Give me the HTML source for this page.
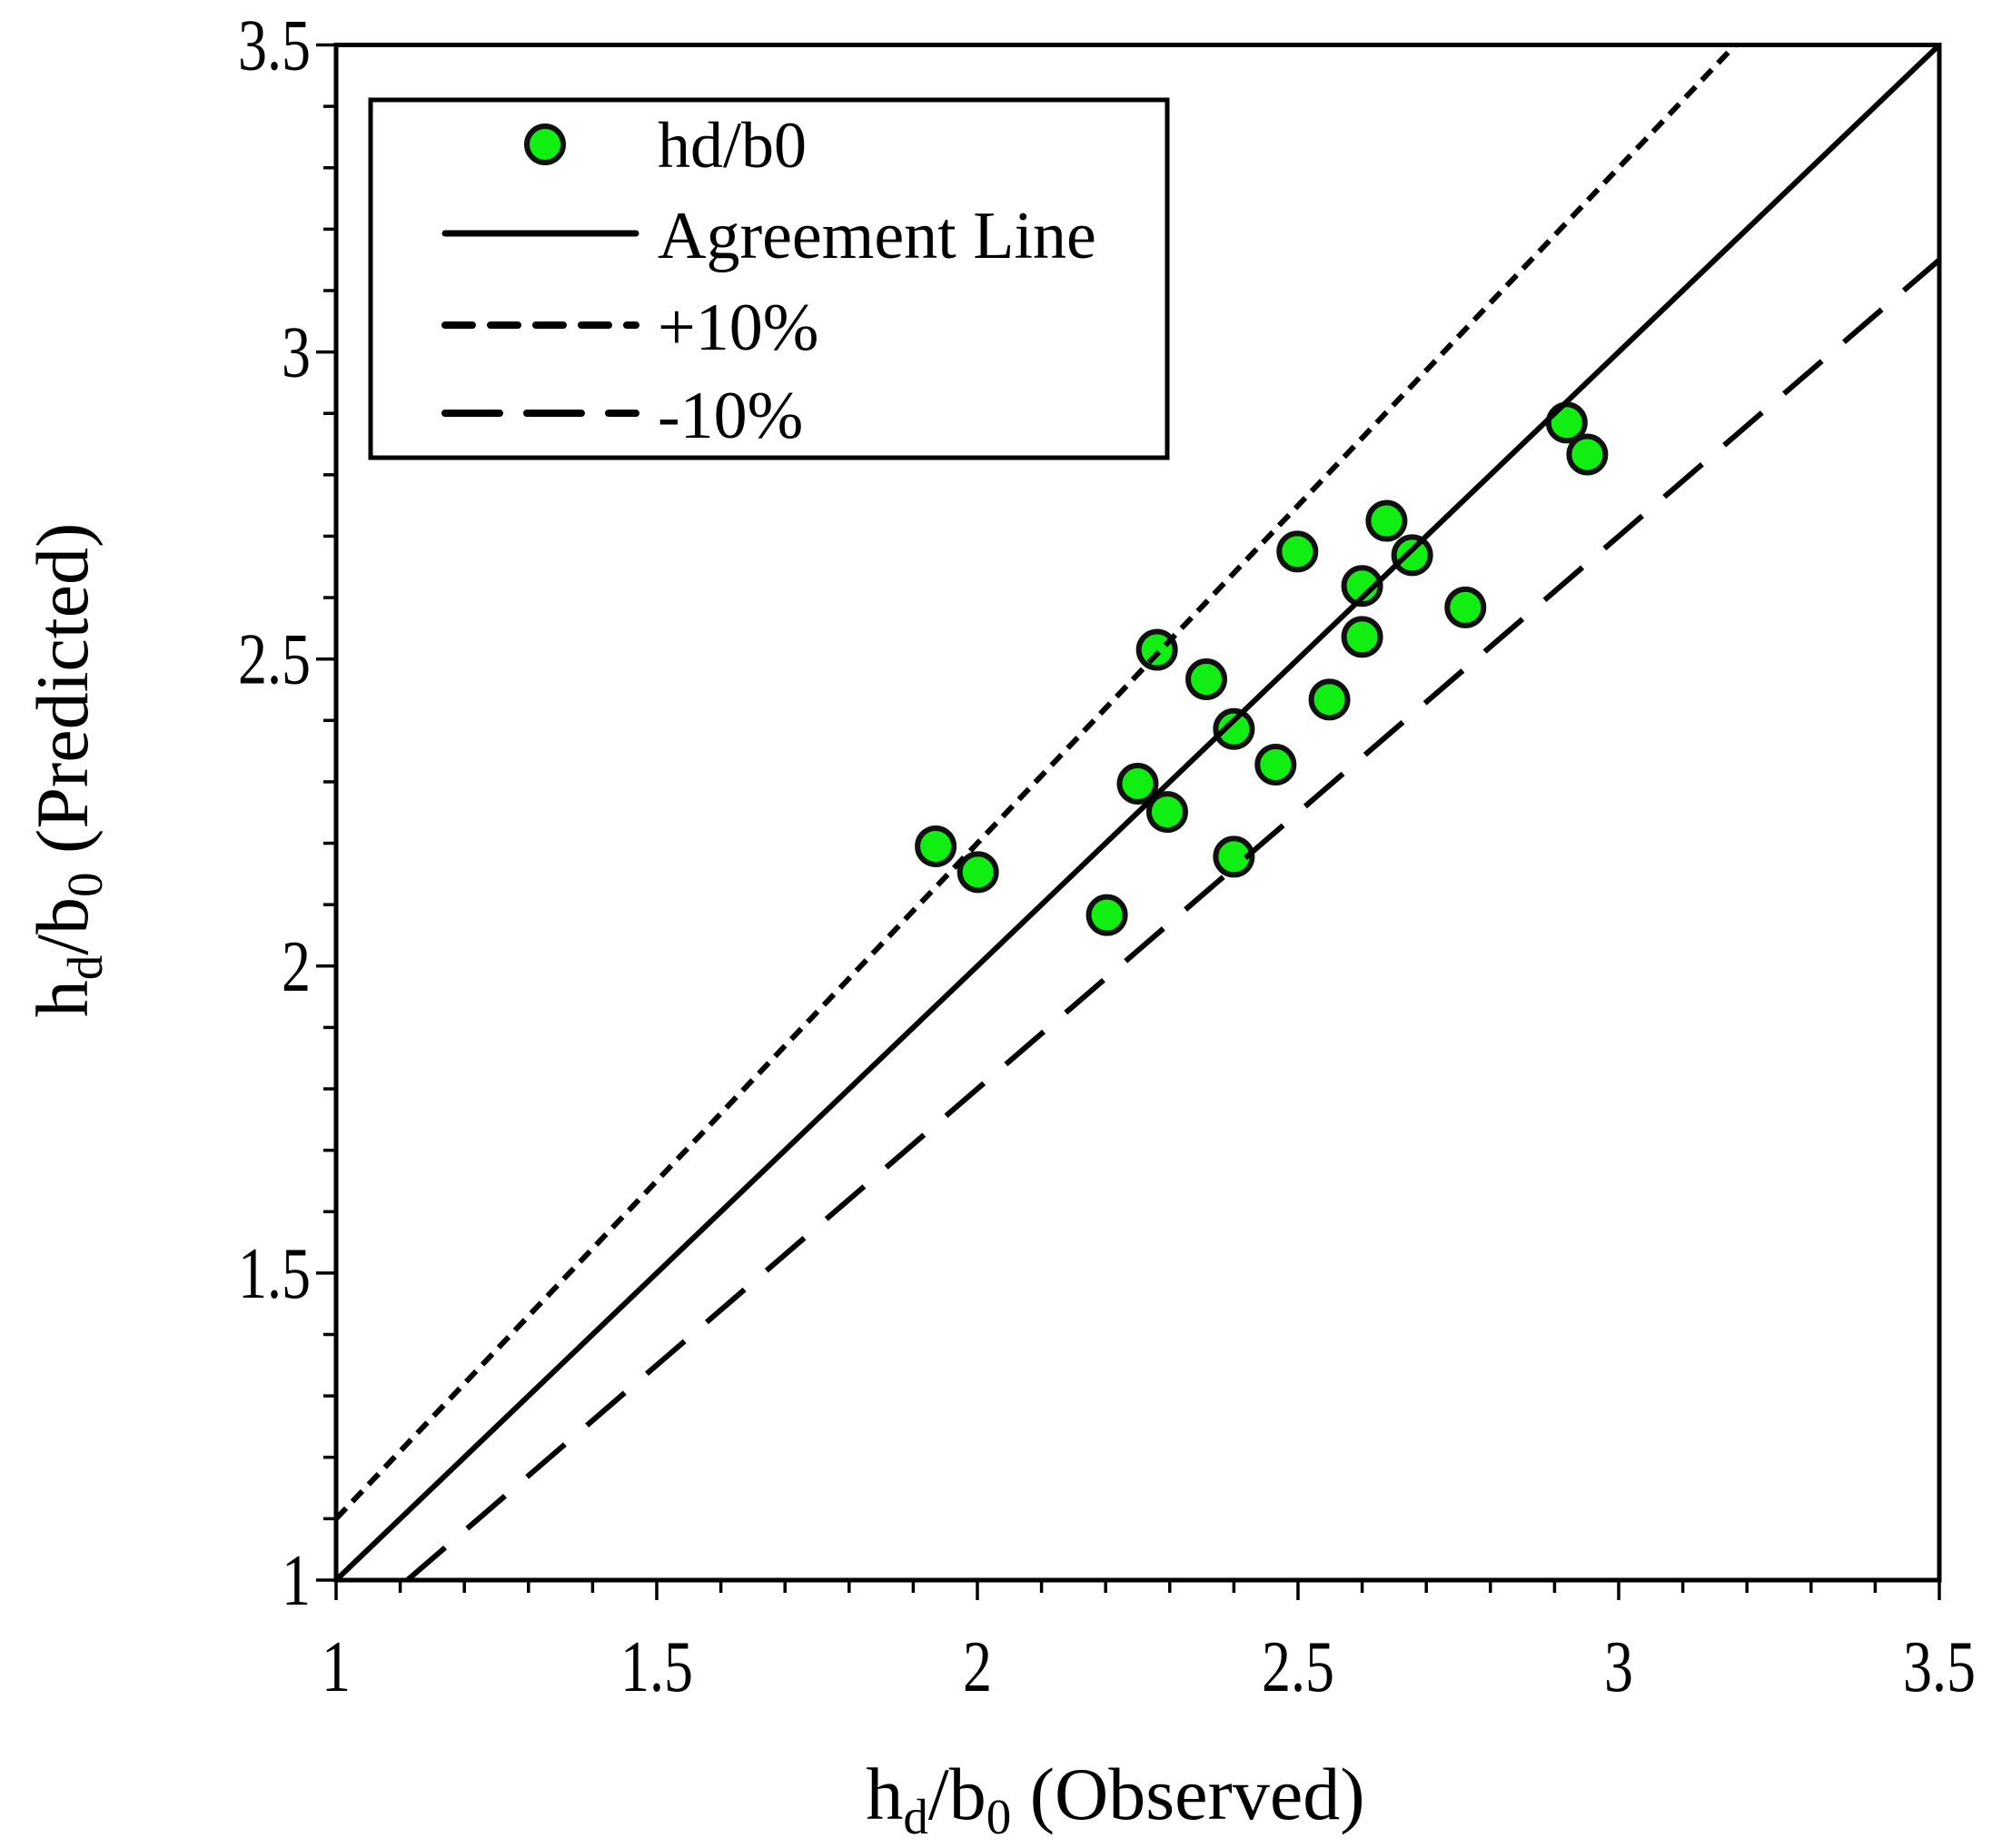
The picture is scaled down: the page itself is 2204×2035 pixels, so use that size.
<!DOCTYPE html>
<html><head><meta charset="utf-8"><style>
html,body{margin:0;padding:0;background:#fff;}
svg{display:block;}
text{font-family:"Liberation Serif",serif;fill:#000;}
</style></head><body>
<svg id="chart" width="2204" height="2035" viewBox="0 0 2204 2035" xmlns="http://www.w3.org/2000/svg">
<rect x="0" y="0" width="2204" height="2035" fill="#fff"/>
<g id="ticks"></g>
<g id="points"></g>
<g id="lines"></g>
<rect x="370" y="49.5" width="1765" height="1690.5" fill="none" stroke="#000" stroke-width="5"/>
<g id="legend">
<rect x="408" y="110" width="877" height="394" fill="#fff" stroke="#000" stroke-width="5"/>
<circle cx="600" cy="159" r="20" fill="#11ee11" stroke="#111" stroke-width="6"/>
<text x="724" y="184" font-size="72">hd/b0</text>
<line x1="490" y1="257" x2="700" y2="257" stroke="#000" stroke-width="7" stroke-linecap="round"/>
<text x="724" y="284" font-size="74">Agreement Line</text>
<line x1="490" y1="358" x2="700" y2="358" stroke="#000" stroke-width="8" stroke-dasharray="30 20" stroke-linecap="round"/>
<text x="724" y="385" font-size="74">+10%</text>
<line x1="490" y1="455" x2="700" y2="455" stroke="#000" stroke-width="8" stroke-dasharray="60 30" stroke-linecap="round"/>
<text x="724" y="482" font-size="74">-10%</text>
</g>
<text x="1228" y="2003" font-size="82" text-anchor="middle">h<tspan font-size="55" dy="16">d</tspan><tspan dy="-16">/b</tspan><tspan font-size="55" dy="16">0</tspan><tspan dy="-16"> (Observed)</tspan></text>
<text transform="translate(96,848) rotate(-90)" font-size="82" text-anchor="middle">h<tspan font-size="55" dy="16">d</tspan><tspan dy="-16">/b</tspan><tspan font-size="55" dy="16">0</tspan><tspan dy="-16"> (Predicted)</tspan></text>
</svg>
<script>
const obsX = [1.935,2.001,2.202,2.25,2.28,2.296,2.357,2.40,2.40,2.465,2.499,2.549,2.60,2.60,2.638,2.678,2.761,2.919,2.951];
const predY = [2.195,2.153,2.083,2.297,2.515,2.251,2.467,2.386,2.178,2.328,2.675,2.434,2.619,2.536,2.725,2.669,2.584,2.885,2.833];
const tickLabels = ["1","1.5","2","2.5","3","3.5"];
const tickValues = [1,1.5,2,2.5,3,3.5];
const axisMin = 1, axisMax = 3.5;
const bandFactors = [1.1, 0.9];

const NS="http://www.w3.org/2000/svg";
const X0=370,X1=2135,Y0=1740,Y1=49.5;
const sx=v=>X0+(v-axisMin)/(axisMax-axisMin)*(X1-X0);
const sy=v=>Y0-(v-axisMin)/(axisMax-axisMin)*(Y0-Y1);
function mk(tag,attrs,parent){const e=document.createElementNS(NS,tag);for(const k in attrs)e.setAttribute(k,attrs[k]);parent.appendChild(e);return e;}
const tg=document.getElementById('ticks');
for(let i=0;i<=25;i++){
  const v=axisMin+i*0.1; const major=i%5===0; const L=major?22:14;
  const tx=mk('line',{x1:sx(v),x2:sx(v),y1:Y0,y2:Y0+L,stroke:'#000','stroke-width':3.5},tg);
  
  
  const ty=mk('line',{x1:X0-L,x2:X0,y1:sy(v),y2:sy(v),stroke:'#000','stroke-width':3.5},tg);
  
  
}
tickValues.forEach((v,i)=>{
  const t=mk('text',{transform:'translate('+sx(v)+',1862) scale(0.8,1)','font-size':80,'text-anchor':'middle'},tg);t.textContent=tickLabels[i];
  
  
  const u=mk('text',{transform:'translate(342,'+(sy(v)+27)+') scale(0.8,1)','font-size':80,'text-anchor':'end'},tg);u.textContent=tickLabels[i];
  
  
});
const pg=document.getElementById('points');
obsX.forEach((x,i)=>{
  const c=mk('circle',{cx:sx(x),cy:sy(predY[i]),r:20,fill:'#11ee11',stroke:'#111','stroke-width':6},pg);
  
  
});
const lg=document.getElementById('lines');
const a=mk('line',{x1:sx(1),y1:sy(1),x2:sx(3.5),y2:sy(3.5),stroke:'#000','stroke-width':6},lg);


const p=bandFactors[0];
const pl=mk('line',{x1:sx(1),y1:sy(p),x2:sx(axisMax/p),y2:sy(axisMax),stroke:'#000','stroke-width':6,'stroke-dasharray':'16 10'},lg);


const m=bandFactors[1];
const ml=mk('line',{x1:sx(1/m),y1:sy(1),x2:sx(axisMax),y2:sy(axisMax*m),stroke:'#000','stroke-width':6,'stroke-dasharray':'55 32'},lg);


</script>
</body></html>
